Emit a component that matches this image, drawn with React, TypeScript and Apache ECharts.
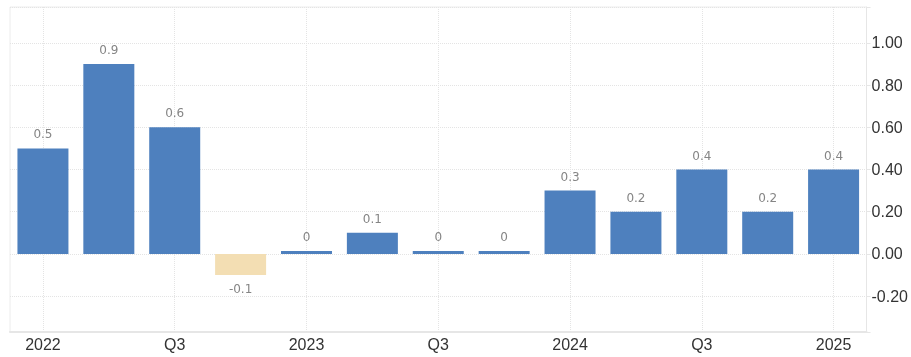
import React, { useEffect, useRef } from "react";
import * as echarts from "echarts";

const categories = ["2022", "Q2", "Q3", "Q4", "2023", "Q2", "Q3", "Q4", "2024", "Q2", "Q3", "Q4", "2025"];
const values = [0.5, 0.9, 0.6, -0.1, 0, 0.1, 0, 0, 0.3, 0.2, 0.4, 0.2, 0.4];
const gridLineIndices = [0, 2, 4, 6, 8, 10, 12];
const yMin = -0.37;
const yMax = 1.17;

const POS = "#4e80be";
const NEG = "#f3deb3";

export default function App() {
  const ref = useRef<HTMLDivElement>(null);
  useEffect(() => {
    if (!ref.current) return;
    const chart = echarts.init(ref.current, null, { renderer: "svg" });
    chart.setOption({
      animation: false,
      grid: {
        left: 10,
        top: 7,
        right: 44,
        bottom: 25,
        show: true,
        borderColor: "#ececec",
        borderWidth: 1,
        backgroundColor: "transparent",
      },
      xAxis: {
        type: "category",
        data: categories,
        boundaryGap: true,
        axisLine: { show: true, onZero: false, lineStyle: { color: "#e6e6e6", width: 2 } },
        axisTick: { show: false },
        splitLine: { show: false },
        axisLabel: {
          interval: 1,
          margin: 4,
          color: "#333",
          fontFamily: "Liberation Sans, Arial, sans-serif",
          fontSize: 16,
        },
      },
      yAxis: {
        type: "value",
        position: "right",
        min: yMin,
        max: yMax,
        splitNumber: 8,
        minInterval: 0.2,
        maxInterval: 0.2,
        axisLine: { show: true, lineStyle: { color: "#e6e6e6" } },
        axisTick: { show: true, length: 4, lineStyle: { color: "#e6e6e6" } },
        splitLine: { show: true, lineStyle: { color: "#e4e4e4", type: "dotted" } },
        axisLabel: {
          margin: 5,
          color: "#333",
          fontFamily: "Liberation Sans, Arial, sans-serif",
          fontSize: 16,
          formatter: (v: number) =>
            Math.abs(Math.round(v * 5) - v * 5) < 1e-6 ? (Math.abs(v) < 1e-9 ? 0 : v).toFixed(2) : "",
        },
      },
      series: [
        {
          type: "bar",
          barWidth: 51,
          barMinHeight: 3,
          data: values.map((v) => ({
            value: v,
            itemStyle: { color: v < 0 ? NEG : POS },
            label: { position: v < 0 ? "bottom" : "top" },
          })),
          label: {
            show: true,
            distance: 8,
            color: "#858585",
            fontFamily: "DejaVu Sans, sans-serif",
            fontSize: 12,
            formatter: (p: any) => String(Math.round(p.value * 10) / 10),
          },
          markLine: {
            silent: true,
            symbol: "none",
            z: 1,
            label: { show: false },
            lineStyle: { color: "#e4e4e4", type: "dotted", width: 1 },
            data: gridLineIndices.map((i) => ({ xAxis: i })),
          },
        },
      ],
    });
    return () => chart.dispose();
  }, []);
  return <div ref={ref} style={{ position: "fixed", left: 0, top: 0, width: 911, height: 357 }} />;
}
